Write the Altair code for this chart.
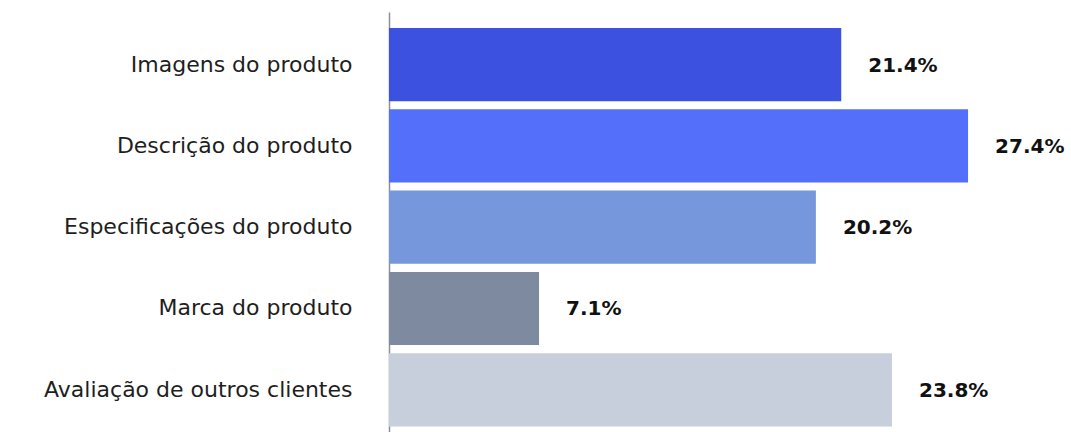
import altair as alt
import pandas as pd

categories = [
    "Imagens do produto",
    "Descrição do produto",
    "Especificações do produto",
    "Marca do produto",
    "Avaliação de outros clientes",
]
values = [21.4, 27.4, 20.2, 7.1, 23.8]
labels = ["21.4%", "27.4%", "20.2%", "7.1%", "23.8%"]
colors = ["#3c51e0", "#5470fa", "#7697db", "#7e8aa0", "#c8cfdc"]

df = pd.DataFrame({"cat": categories, "val": values, "lab": labels, "col": colors})

y = alt.Y(
    "cat:N",
    sort=categories,
    scale=alt.Scale(paddingInner=0.1, paddingOuter=0.133, align=0.74),
    axis=alt.Axis(
        title=None,
        ticks=False,
        labelPadding=37,
        labelFont="DejaVu Sans",
        labelFontSize=22,
        labelColor="#1e1e1e",
        labelFontWeight="normal",
        domainColor="#8a8f99",
        domainWidth=1.5,
        labelLimit=400,
    ),
)
x = alt.X("val:Q", scale=alt.Scale(domain=[0, 30]), axis=None)

bars = alt.Chart(df).mark_bar().encode(
    x=x, y=y, color=alt.Color("col:N", scale=None)
)
text = alt.Chart(df).mark_text(
    align="left", baseline="middle", dx=27, dy=1,
    font="DejaVu Sans", fontSize=20, fontWeight="bold", color="#111111"
).encode(x=x, y=y, text="lab:N")

chart = (
    alt.layer(bars, text)
    .properties(
        width=634,
        height=420,
        autosize=alt.AutoSizeParams(type="none"),
        padding={"left": 389, "top": 12, "right": 48, "bottom": 0},
        background="white",
    )
    .configure_view(stroke=None)
)

chart.save("out.html", embed_options={"renderer": "svg", "actions": False})
